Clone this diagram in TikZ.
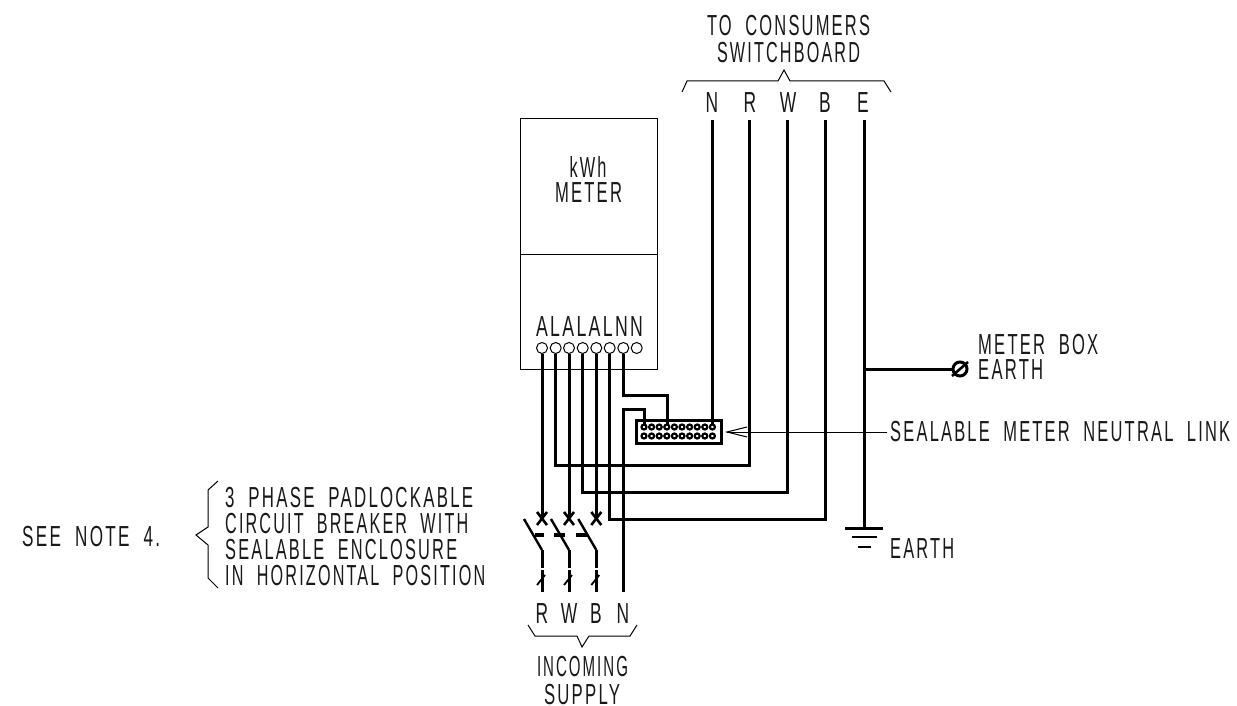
\documentclass[tikz,border=0pt]{standalone}
\usepackage{fontspec}
\usepackage{graphicx}
\setmainfont{Liberation Sans}[FakeStretch=0.6,LetterSpace=8,WordSpace=2]
\usetikzlibrary{arrows.meta}
\newcommand{\fitw}[2]{\resizebox{#1pt}{\height}{#2}}
\tikzset{
  wire/.style={line width=3pt,line join=miter,line cap=butt},
  thin line/.style={line width=1pt},
  term/.style={circle,draw,line width=1pt,fill=white,minimum size=11pt,inner sep=0pt},
  lk/.style={circle,draw,line width=2.2pt,fill=white,minimum size=5pt,inner sep=0pt},
  lab/.style={inner sep=0pt,font=\fontsize{29}{29}\selectfont,text=black!90},
  labl/.style={lab,anchor=base west},
  labc/.style={lab,anchor=base},
}
\begin{document}
\begin{tikzpicture}[x=1pt,y=-1pt]
\useasboundingbox (0,0) rectangle (1237,706);
% meter
\node[draw,thin line,minimum width=137pt,minimum height=135pt,inner sep=0pt] (mtop) at (588.5,186.5) {};
\node[draw,thin line,minimum width=137pt,minimum height=115pt,inner sep=0pt] (mbot) at (588.5,311.5) {};
\node[labc] (kwh) at (588,177) {\fitw{37}{kWh}};
\node[labc] (mtr) at (588.5,203) {\fitw{67}{METER}};
\node[labc] (tlab) at (589.5,336) {\fitw{107}{ALALALNN}};
% terminals
\foreach \n/\x in {1/542,2/555.7,3/569,4/582.7,5/596.3,6/609.7,7/623.3,8/636.7}
  \node[term] (t\n) at (\x,348) {};
% neutral link
\node[draw,line width=3pt,minimum width=85pt,minimum height=23pt,inner sep=0pt] (link) at (678.5,431.5) {};
% wires first, dots on top
\foreach \n/\x in {a/712,b/749.5,c/787.5,d/825.5,e/864}
  \coordinate (top\n) at (\x,120);
\draw[wire] (t2.south) |- (749.5,465.5) -- (topb);
\draw[wire] (t4.south) |- (787.5,492.5) -- (topc);
\draw[wire] (t6.south) |- (825.5,519) -- (topd);
\coordinate (br1) at (542,518); \coordinate (br2) at (569,518); \coordinate (br3) at (596.3,518);
\draw[wire] (t1.south) -- (br1);
\draw[wire] (t3.south) -- (br2);
\draw[wire] (t5.south) -- (br3);
\draw[wire] (t7.south) |- (667,395) -- (667,427);
\draw[wire] (644,427) |- (623.3,409) -- (623.3,592);
\draw[wire] (topa) -- (712,427);
% link dots
\foreach \r/\y in {u/427,l/436}
  \foreach \i in {0,...,9}
    \node[lk] (d\r\i) at ({644+\i*7.6},\y) {};
% breakers
\foreach \x/\bl/\br in {542/535/544,569/554/565,596.3/576/587}{
  \draw[line width=2.6pt] (\x-5,512) -- (\x+5,525);
  \draw[line width=2.6pt] (\x+5,512) -- (\x-5,525);
  \draw[line width=2.4pt] (\x-18,519) -- (\x,550);
  \draw[wire] (\x,550) -- (\x,568);
  \draw[wire] (\x,570) -- (\x,592);
  \draw[line width=1.8pt] (\x-5,585) -- (\x+3,575);
  \draw[line width=3.2pt] (\bl,535) -- (\br,535);
}
% earth
\draw[wire] (tope) -- (864,528);
\draw[line width=3pt] (845,528) -- (883,528);
\draw[line width=2.6pt] (852,537) -- (877,537);
\draw[line width=2.6pt] (858,547) -- (871,547);
% meter box earth
\node[circle,draw,line width=3pt,minimum size=14pt,inner sep=0pt] (mbe) at (960,369) {};
\draw[wire] (864,369) -- (mbe.west);
\draw[line width=2.6pt] (952,376) -- (968,362);
% leader
\coordinate (ldr) at (887,432);
\draw[thin line] (ldr) -- (727,432);
\draw[thin line] (747,427) -- (727,432) -- (747,437);
% labels
\node[labc] (c1) at (788.5,36) {\fitw{163}{TO CONSUMERS}};
\node[labc] (c2) at (788.5,63) {\fitw{143}{SWITCHBOARD}};
\node[labc] (ln) at (712,113) {N};
\node[labc] (lr) at (750,113) {R};
\node[labc] (lw) at (788,113) {W};
\node[labc] (lb) at (825,113) {B};
\node[labc] (le) at (863,113) {E};
\draw[thin line] (682,92) -- (687,81) -- (778,81) -- (784,70) -- (790,81) -- (884,81) -- (891,92);
\node[labl] (m1) at (978,354) {\fitw{120}{METER BOX}};
\node[labl] (m2) at (978,379) {\fitw{65}{EARTH}};
\node[labl] (sl) at (890,441) {\fitw{340}{SEALABLE METER NEUTRAL LINK}};
\node[labl] (ea) at (890,558) {\fitw{64}{EARTH}};
\node[labl] (sn) at (22,546) {\fitw{138}{SEE NOTE 4.}};
\node[labl] (p1) at (225,507) {\fitw{248}{3 PHASE PADLOCKABLE}};
\node[labl] (p2) at (225,533) {\fitw{243}{CIRCUIT BREAKER WITH}};
\node[labl] (p3) at (225,559) {\fitw{232}{SEALABLE ENCLOSURE}};
\node[labl] (p4) at (225,585) {\fitw{260}{IN HORIZONTAL POSITION}};
\draw[thin line] (218,481) -- (208,490) -- (208,527) -- (196,535) -- (208,545) -- (208,578) -- (218,588);
\node[labc] (br) at (542,623) {R};
\node[labc] (bw) at (569,623) {W};
\node[labc] (bb) at (596,623) {B};
\node[labc] (bn) at (623,623) {N};
\draw[thin line] (528,625) -- (535,636) -- (577,636) -- (582,647) -- (589,636) -- (630,636) -- (637,625);
\node[labc] (i1) at (582.5,676) {\fitw{91}{INCOMING}};
\node[labc] (i2) at (582,704) {\fitw{76}{SUPPLY}};
\end{tikzpicture}
\end{document}
